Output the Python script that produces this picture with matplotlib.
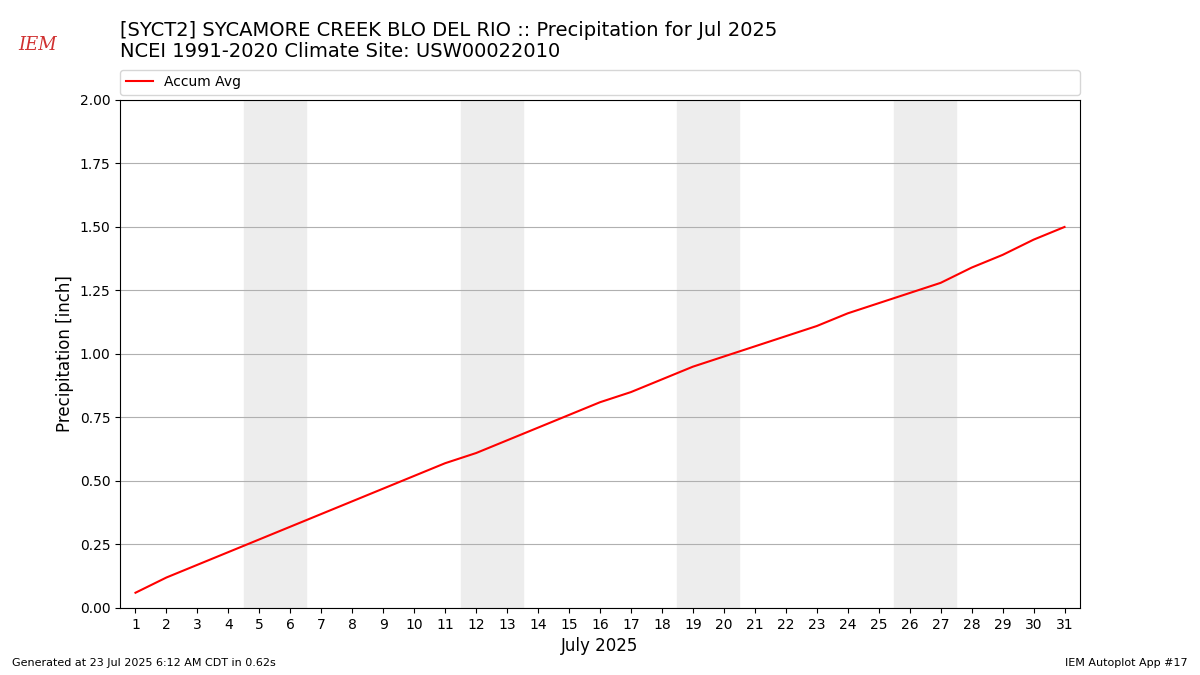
import matplotlib
matplotlib.use("Agg")
import matplotlib.pyplot as plt

days = list(range(1, 32))
accum_avg = [0.06, 0.12, 0.17, 0.22, 0.27, 0.32, 0.37, 0.42, 0.47, 0.52,
             0.57, 0.61, 0.66, 0.71, 0.76, 0.81, 0.85, 0.90, 0.95, 0.99,
             1.03, 1.07, 1.11, 1.16, 1.20, 1.24, 1.28, 1.34, 1.39, 1.45, 1.50]
weekend_starts = [5, 12, 19, 26]

fig = plt.figure(figsize=(12, 6.75), dpi=100)
ax = fig.add_axes([0.10, 0.0993, 0.80, 0.7526])

for d in weekend_starts:
    ax.axvspan(d - 0.5, d + 1.5, color="#ededed", zorder=0)

ax.plot(days, accum_avg, color="red", label="Accum Avg")
ax.set_xlim(0.5, 31.5)
ax.set_ylim(0, 2.0)
ax.set_xticks(days)
ax.set_yticks([0, 0.25, 0.5, 0.75, 1.0, 1.25, 1.5, 1.75, 2.0])
ax.grid(axis="y", color="#b0b0b0")
ax.set_axisbelow(True)
ax.set_xlabel("July 2025", fontsize=12)
ax.set_ylabel("Precipitation [inch]", fontsize=12)
ax.legend(loc="lower left", bbox_to_anchor=(0, 1.01, 1, 0.05), mode="expand",
          ncol=1, borderaxespad=0, fontsize=10)

fig.text(0.10, 0.955, "[SYCT2] SYCAMORE CREEK BLO DEL RIO :: Precipitation for Jul 2025",
         fontsize=14, va="center")
fig.text(0.10, 0.923, "NCEI 1991-2020 Climate Site: USW00022010", fontsize=14, va="center")
fig.text(0.031, 0.933, "IEM", fontsize=13, color="#d03030", style="italic",
         family="serif", ha="center", va="center")
fig.text(0.01, 0.013, "Generated at 23 Jul 2025 6:12 AM CDT in 0.62s", fontsize=8)
fig.text(0.99, 0.013, "IEM Autoplot App #17", fontsize=8, ha="right")

fig.savefig("out.png", dpi=100)
